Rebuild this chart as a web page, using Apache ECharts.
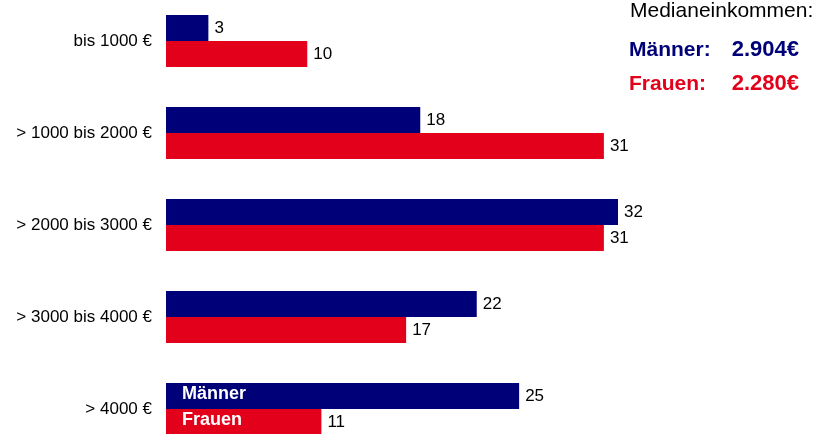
<!DOCTYPE html>
<html><head><meta charset="utf-8">
<script src="https://cdn.jsdelivr.net/npm/echarts@6/dist/echarts.min.js"></script>
<style>html,body{margin:0;padding:0;background:#fff;overflow:hidden;width:818px;height:434px}#c{position:absolute;left:0;top:-5px;width:818px;height:460px}</style>
</head><body><div id="c"></div>
<script>
const categories = ['bis 1000 €', '> 1000 bis 2000 €', '> 2000 bis 3000 €', '> 3000 bis 4000 €', '> 4000 €'];
const maenner = [3, 18, 32, 22, 25];
const frauen = [10, 31, 31, 17, 11];
const seriesNames = ['Männer', 'Frauen'];
const legendTitle = 'Medianeinkommen:';
const medianMaenner = '2.904€';
const medianFrauen = '2.280€';

const NAVY = '#000078', RED = '#e2001a';
const font = 'Liberation Sans, Arial, sans-serif';
const OFF = 5; // canvas shifted up by 5px
const chart = echarts.init(document.getElementById('c'));

function mkSeries(name, arr, color) {
  return {
    name: name, type: 'bar', data: arr,
    itemStyle: { color: color },
    barGap: '0%', barCategoryGap: '43.5%',
    label: { show: true, position: 'right', color: '#000', fontSize: 17, fontFamily: font, distance: 6 },
    animation: false
  };
}

chart.setOption({
  animation: false,
  grid: { left: 166, right: 87, top: 0, bottom: 0, containLabel: false },
  xAxis: { type: 'value', min: 0, max: 40, show: false },
  yAxis: [{
    type: 'category', data: categories, inverse: true,
    axisLine: { show: false }, axisTick: { show: false },
    axisLabel: { color: '#000', fontSize: 17, fontFamily: font, margin: 14 }
  }],
  series: [mkSeries(seriesNames[0], maenner, NAVY), mkSeries(seriesNames[1], frauen, RED)]
});

const lastIdx = categories.length - 1;
const p = chart.convertToPixel({ gridIndex: 0 }, [0, lastIdx]);
chart.setOption({
  graphic: [
    { type: 'text', left: 630, top: 1 + OFF, style: { text: legendTitle, fill: '#000', font: '21px ' + font } },
    { type: 'text', left: 629, top: 40 + OFF, style: { text: seriesNames[0] + ':', fill: NAVY, font: 'bold 21px ' + font } },
    { type: 'text', right: 19, top: 39 + OFF, style: { text: medianMaenner, fill: NAVY, font: 'bold 22px ' + font } },
    { type: 'text', left: 629, top: 74 + OFF, style: { text: seriesNames[1] + ':', fill: RED, font: 'bold 21px ' + font } },
    { type: 'text', right: 19, top: 73 + OFF, style: { text: medianFrauen, fill: RED, font: 'bold 22px ' + font } },
    { type: 'text', left: p[0] + 16, top: p[1] - 26 + 2, style: { text: seriesNames[0], fill: '#fff', font: 'bold 18px ' + font }, z: 10 },
    { type: 'text', left: p[0] + 16, top: p[1] + 2, style: { text: seriesNames[1], fill: '#fff', font: 'bold 18px ' + font }, z: 10 }
  ]
});
</script>
</body></html>
